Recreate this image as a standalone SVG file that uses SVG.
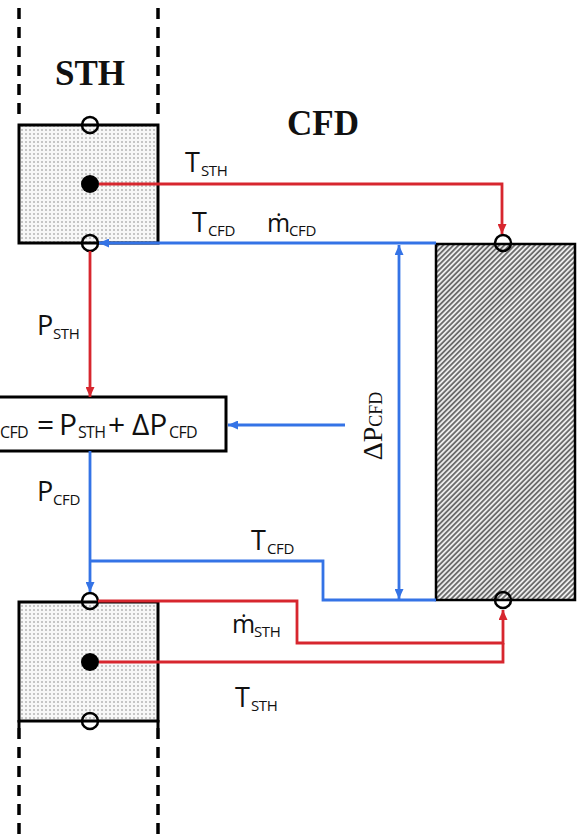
<svg xmlns="http://www.w3.org/2000/svg" width="579" height="840" viewBox="0 0 579 840">
<defs>
<style>
.dash{stroke:#000;stroke-width:3.5;stroke-dasharray:11 8;fill:none}
.box{stroke:#000;stroke-width:3;}
.port{fill:none;stroke:#000;stroke-width:2.5}
.red{stroke:#d7262e;stroke-width:2.8;fill:none}
.blue{stroke:#3473e6;stroke-width:2.8;fill:none}
.lbl{font-family:"Open Sans","Noto Sans",sans-serif;font-size:27px;fill:#111}
.sub{font-size:15px;letter-spacing:-0.4px}
.esub{font-size:16px;letter-spacing:-0.7px}
.head{font-family:"Liberation Serif",serif;font-weight:bold;font-size:35px;fill:#111}
</style>
<pattern id="dots" width="4" height="4" patternUnits="userSpaceOnUse"><rect width="4" height="4" fill="#f7f7f7"/><circle cx="2" cy="2" r="0.75" fill="#7a7a7a"/></pattern>
<pattern id="hatch" width="3.6" height="3.6" patternUnits="userSpaceOnUse" patternTransform="rotate(45)"><rect width="3.6" height="3.6" fill="#ececec"/><line x1="0.9" y1="0" x2="0.9" y2="3.6" stroke="#3a3a3a" stroke-width="1.3"/></pattern>
<marker id="ar" markerUnits="userSpaceOnUse" markerWidth="10" markerHeight="9" refX="10" refY="4.5" orient="auto-start-reverse"><path d="M0,0 L10,4.5 L0,9 z" fill="#d7262e"/></marker>
<marker id="ab" markerUnits="userSpaceOnUse" markerWidth="10" markerHeight="9" refX="10" refY="4.5" orient="auto-start-reverse"><path d="M0,0 L10,4.5 L0,9 z" fill="#3473e6"/></marker>
</defs>
<rect width="579" height="840" fill="#fff"/>

<g id="domain-lines">
<line class="dash" x1="19" y1="8" x2="19" y2="120"/>
<line class="dash" x1="158" y1="8" x2="158" y2="120"/>
<line class="dash" x1="19" y1="728" x2="19" y2="840"/>
<line class="dash" x1="158" y1="728" x2="158" y2="840"/>
<text class="head" x="90" y="85" text-anchor="middle">STH</text>
<text class="head" x="323" y="135" text-anchor="middle">CFD</text>
</g>

<g id="sth-top">
<rect class="box" x="19" y="125" width="139" height="118" fill="url(#dots)"/>
<circle class="port" cx="90" cy="125" r="8" fill="#fff"/>
<circle cx="90" cy="184" r="9" fill="#000"/>
<circle class="port" cx="90" cy="243" r="8"/>
</g>

<g id="sth-bottom">
<rect class="box" x="19" y="602" width="139" height="119" fill="url(#dots)"/>
<line x1="19" y1="720" x2="19" y2="728" stroke="#000" stroke-width="3"/>
<line x1="158" y1="720" x2="158" y2="728" stroke="#000" stroke-width="3"/>
<circle class="port" cx="90" cy="601" r="8"/>
<circle cx="90" cy="662" r="9" fill="#000"/>
<circle class="port" cx="90" cy="721" r="8" fill="#fff"/>
</g>

<g id="cfd-domain">
<rect x="436" y="244" width="139" height="356" fill="url(#hatch)" stroke="#000" stroke-width="2.5"/>
<circle class="port" cx="503" cy="243" r="8"/>
<circle class="port" cx="503" cy="600" r="8"/>
</g>

<g id="equation">
<rect x="-6" y="397" width="232" height="54" fill="#fff" stroke="#000" stroke-width="3"/>
<text class="lbl" style="font-size:30px" y="435"><tspan x="-19">P</tspan><tspan class="esub" x="0" dy="3">CFD</tspan><tspan x="37" dy="-3">=</tspan><tspan x="59">P</tspan><tspan class="esub" x="78" dy="3">STH</tspan><tspan x="108" dy="-3">+</tspan><tspan x="132">ΔP</tspan><tspan class="esub" x="169" dy="3">CFD</tspan></text>
</g>

<g id="connectors">
<path class="red" d="M99,184 H502 V234" marker-end="url(#ar)"/>
<path class="blue" d="M436,243 H99" marker-end="url(#ab)"/>
<path class="red" d="M90,251 V397" marker-end="url(#ar)"/>
<path class="blue" d="M90,451 V592" marker-end="url(#ab)"/>
<path class="blue" d="M436,600 H323 V561 H90"/>
<path class="blue" d="M399,245 V599" marker-start="url(#ab)" marker-end="url(#ab)"/>
<path class="blue" d="M345,425 H228" marker-end="url(#ab)"/>
<path class="red" d="M98,601 H297 V643 H503 V610" marker-end="url(#ar)"/>
<path class="red" d="M99,662 H503 V643"/>
</g>

<g id="labels">
<text class="lbl" y="172"><tspan x="185">T</tspan><tspan class="sub" x="201" dy="4">STH</tspan></text>
<text class="lbl" y="232"><tspan x="192">T</tspan><tspan class="sub" x="208" dy="4">CFD</tspan></text>
<text class="lbl" y="232"><tspan x="267" style="font-size:25px">ṁ</tspan><tspan class="sub" x="289" dy="4">CFD</tspan></text>
<text class="lbl" y="335"><tspan x="37">P</tspan><tspan class="sub" x="53" dy="4">STH</tspan></text>
<text class="lbl" y="501"><tspan x="37">P</tspan><tspan class="sub" x="53" dy="4">CFD</tspan></text>
<text class="lbl" y="550"><tspan x="251">T</tspan><tspan class="sub" x="267" dy="4">CFD</tspan></text>
<text class="lbl" y="633"><tspan x="232" style="font-size:25px">ṁ</tspan><tspan class="sub" x="254" dy="4">STH</tspan></text>
<text class="lbl" y="707"><tspan x="235">T</tspan><tspan class="sub" x="251" dy="4">STH</tspan></text>
<text transform="translate(382,426) rotate(-90)" text-anchor="middle" font-family="Liberation Serif,serif" font-size="28" fill="#111">ΔP<tspan font-size="18">CFD</tspan></text>
</g>
</svg>
